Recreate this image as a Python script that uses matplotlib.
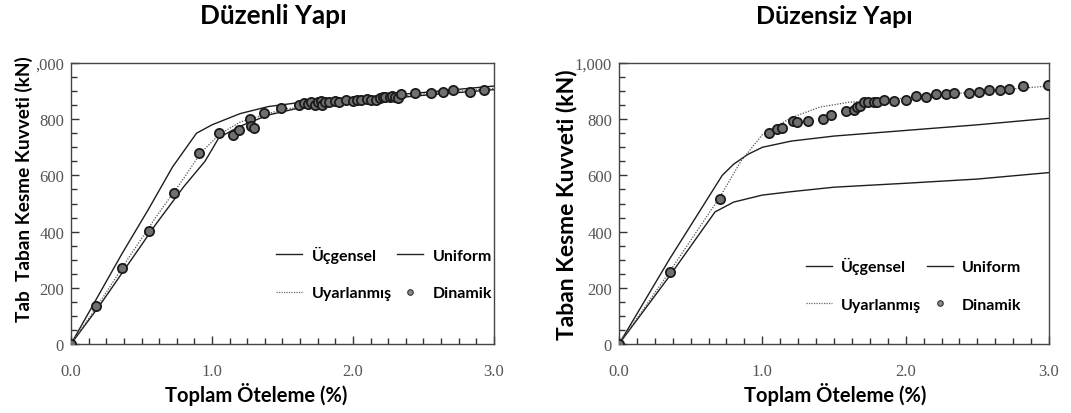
import matplotlib
matplotlib.use("Agg")
import matplotlib.pyplot as plt
from matplotlib.ticker import MultipleLocator, FixedLocator, FixedFormatter
from matplotlib.lines import Line2D

# ---------------- data: Düzenli Yapı ----------------
reg_ucg_x = [0, 0.18, 0.36, 0.55, 0.72, 0.89, 1.0, 1.2, 1.4, 1.6, 2.0, 2.5, 3.0]
reg_ucg_y = [0, 160, 320, 480, 630, 750, 780, 820, 845, 858, 875, 895, 918]
reg_uni_x = [0, 0.2, 0.4, 0.6, 0.8, 0.95, 1.05, 1.2, 1.4, 1.6, 2.0, 2.5, 3.0]
reg_uni_y = [0, 135, 280, 425, 560, 650, 735, 775, 815, 838, 862, 885, 905]
reg_uya_x = [0, 0.2, 0.4, 0.6, 0.8, 0.92, 1.05, 1.2, 1.5, 2.0, 2.5, 3.0]
reg_uya_y = [0, 145, 300, 450, 590, 680, 745, 790, 835, 865, 890, 910]
reg_din_x = [0.0, 0.18, 0.36, 0.55, 0.73, 0.91, 1.05, 1.15, 1.19, 1.27, 1.28, 1.30, 1.37, 1.49,
             1.62, 1.65, 1.68, 1.70, 1.73, 1.75, 1.77, 1.78, 1.80, 1.83, 1.87, 1.90, 1.95,
             2.00, 2.03, 2.06, 2.10, 2.13, 2.16, 2.19, 2.21, 2.23, 2.26, 2.28, 2.30, 2.32, 2.34,
             2.44, 2.55, 2.64, 2.71, 2.83, 2.93]
reg_din_y = [0, 135, 269, 403, 537, 679, 750, 745, 763, 800, 775, 770, 822, 839,
             850, 858, 855, 860, 852, 862, 866, 850, 862, 860, 864, 862, 868,
             866, 870, 870, 872, 868, 870, 877, 880, 878, 880, 882, 878, 875, 888,
             895, 895, 898, 903, 898, 905]

# ---------------- data: Düzensiz Yapı ----------------
irr_ucg_x = [0, 0.35, 0.72, 0.8, 0.9, 1.0, 1.2, 1.5, 2.0, 2.5, 3.0]
irr_ucg_y = [0, 300, 600, 640, 675, 700, 722, 740, 760, 780, 803]
irr_uni_x = [0, 0.35, 0.67, 0.8, 1.0, 1.2, 1.5, 2.0, 2.5, 3.0]
irr_uni_y = [0, 240, 470, 505, 530, 542, 558, 572, 587, 610]
irr_uya_x = [0, 0.35, 0.7, 0.85, 1.0, 1.2, 1.4, 1.6, 1.8, 2.0, 2.5, 3.0]
irr_uya_y = [0, 255, 520, 650, 745, 805, 843, 860, 868, 875, 898, 918]
irr_din_x = [0.0, 0.356, 0.705, 1.045, 1.10, 1.14, 1.216, 1.24, 1.32, 1.42, 1.48, 1.584, 1.64,
             1.66, 1.68, 1.71, 1.74, 1.78, 1.80, 1.85, 1.92, 2.00, 2.07, 2.14, 2.21, 2.28,
             2.34, 2.44, 2.51, 2.58, 2.66, 2.72, 2.82, 2.99]
irr_din_y = [0, 257, 516, 751, 765, 770, 795, 790, 793, 800, 815, 830, 833,
             842, 848, 860, 862, 862, 862, 868, 866, 868, 882, 880, 888, 888,
             892, 892, 897, 903, 903, 908, 918, 920]

titles = ["Düzenli Yapı", "Düzensiz Yapı"]
ylabels = ["Tab  Taban Kesme Kuvveti (kN)", "Taban Kesme Kuvveti (kN)"]
xlabel = "Toplam Öteleme (%)"
legend_names = ["Üçgensel", "Uniform", "Uyarlanmış", "Dinamik"]
xtick_vals = [0.0, 1.0, 2.0, 3.0]
xtick_labels = ["0.0", "1.0", "2.0", "3.0"]
ytick_vals = [0, 200, 400, 600, 800, 1000]
ytick_labels_left = ["0", "200", "400", "600", "800", ",000"]
ytick_labels_right = ["0", "200", "400", "600", "800", "1,000"]

BOLD = ["Lato", "DejaVu Sans"]
SERIF = "Liberation Serif"
TICKC = "#555555"

fig = plt.figure(figsize=(10.71, 4.14), dpi=100)
W, H = 1071, 414
ax1 = fig.add_axes([71 / W, 1 - 345 / H, (494 - 71) / W, (345 - 64) / H])
ax2 = fig.add_axes([619 / W, 1 - 345 / H, (1049 - 619) / W, (345 - 64) / H])

datasets = [
    (ax1, reg_ucg_x, reg_ucg_y, reg_uni_x, reg_uni_y, reg_uya_x, reg_uya_y, reg_din_x, reg_din_y, ytick_labels_left),
    (ax2, irr_ucg_x, irr_ucg_y, irr_uni_x, irr_uni_y, irr_uya_x, irr_uya_y, irr_din_x, irr_din_y, ytick_labels_right),
]

title_x = [0.478, 0.5]
title_size = [18.8, 18]
xlabel_x = [0.437, 0.502]
ylabel_size = [13.7, 16.5]
ylabel_y = [0.555, 0.5]
ylabel_x = [-0.09, -0.098]
leg_anchor = [(1.029, 0.105), (0.97, 0.064)]

for i, (ax, ux, uy, nx, ny, ax_x, ax_y, dx, dy, ylabs) in enumerate(datasets):
    ax.plot(ux, uy, color="#1e1e1e", lw=1.0, label=legend_names[0])
    ax.plot(nx, ny, color="#1e1e1e", lw=1.0, label=legend_names[1])
    ax.plot(ax_x, ax_y, color="#555555", lw=0.9, linestyle=(0, (1, 1.2)), label=legend_names[2])
    ax.scatter(dx, dy, s=44, facecolor="#707070", edgecolor="#1a1a1a", linewidths=1.3,
               zorder=3, label=legend_names[3])
    ax.set_xlim(0, 3.0)
    ax.set_ylim(0, 1000)
    ax.xaxis.set_major_locator(FixedLocator(xtick_vals))
    ax.xaxis.set_major_formatter(FixedFormatter(xtick_labels))
    ax.xaxis.set_minor_locator(MultipleLocator(0.125))
    ax.yaxis.set_major_locator(FixedLocator(ytick_vals))
    ax.yaxis.set_major_formatter(FixedFormatter(ylabs))
    ax.yaxis.set_minor_locator(MultipleLocator(50))
    ax.tick_params(which="both", direction="in", colors="#333333", labelcolor=TICKC)
    ax.tick_params(which="major", length=6, width=1.0, labelsize=12)
    ax.tick_params(axis="x", which="major", pad=14)
    ax.tick_params(axis="y", which="major", pad=5)
    ax.tick_params(which="minor", length=4, width=1.0)
    for lab in ax.get_xticklabels() + ax.get_yticklabels():
        lab.set_fontfamily(SERIF)
    for s in ax.spines.values():
        s.set_color("#444444")
        s.set_linewidth(1.0)
    ax.set_title(titles[i], fontfamily=BOLD, fontweight="bold", fontsize=title_size[i], pad=29, x=title_x[i])
    ax.set_xlabel(xlabel, fontfamily=BOLD, fontweight="bold", fontsize=14.5)
    ax.xaxis.set_label_coords(xlabel_x[i], -0.135)
    ax.set_ylabel(ylabels[i], fontfamily=BOLD, fontweight="bold", fontsize=ylabel_size[i])
    ax.yaxis.set_label_coords(ylabel_x[i], ylabel_y[i])

    leg_handles = [
        Line2D([], [], color="#222222", lw=1.0),
        Line2D([], [], color="#666666", lw=0.9, linestyle=(0, (1, 1))),
        Line2D([], [], color="#222222", lw=1.0),
        Line2D([], [], marker="o", linestyle="none", markersize=4, markerfacecolor="#8a8a8a",
               markeredgecolor="#333333", markeredgewidth=0.8),
    ]
    leg_labels = [legend_names[0], legend_names[2], legend_names[1], legend_names[3]]
    ax.legend(leg_handles, leg_labels, ncol=2, loc="lower right", bbox_to_anchor=leg_anchor[i],
              frameon=False, handlelength=1.6, handletextpad=0.6, columnspacing=0.35,
              labelspacing=1.45, borderpad=0.4,
              prop={"family": BOLD, "weight": "bold", "size": 11.5})

fig.savefig("out.png", dpi=100, facecolor="white")
